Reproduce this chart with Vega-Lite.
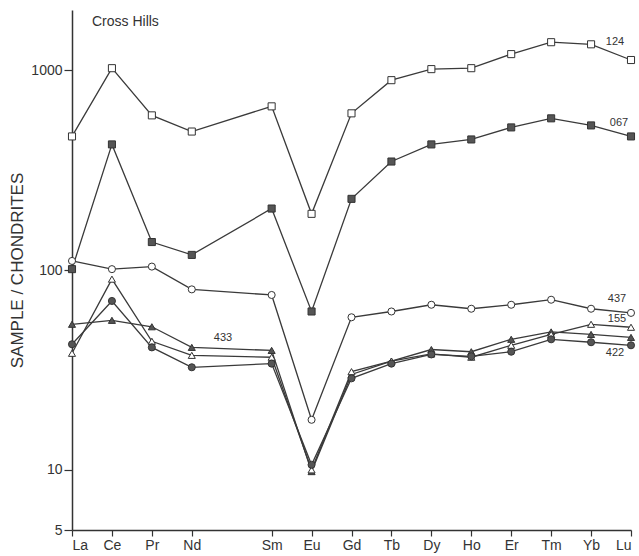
{
  "$schema": "https://vega.github.io/schema/vega-lite/v6.json",
  "width": 559,
  "height": 520,
  "autosize": "none",
  "padding": {"left": 72, "top": 10, "right": 8, "bottom": 26},
  "background": "white",
  "config": {"view": {"stroke": null}, "font": "Liberation Sans"},
  "datasets": {
    "ree": [
      {"s":"124","i":0,"v":466},{"s":"124","i":1,"v":1023},{"s":"124","i":2,"v":594},{"s":"124","i":3,"v":493},{"s":"124","i":5,"v":659},{"s":"124","i":6,"v":191},{"s":"124","i":7,"v":608},{"s":"124","i":8,"v":891},{"s":"124","i":9,"v":1012},{"s":"124","i":10,"v":1023},{"s":"124","i":11,"v":1203},{"s":"124","i":12,"v":1380},{"s":"124","i":13,"v":1347},{"s":"124","i":14,"v":1124},
      {"s":"067","i":0,"v":101},{"s":"067","i":1,"v":425},{"s":"067","i":2,"v":138},{"s":"067","i":3,"v":119},{"s":"067","i":5,"v":203},{"s":"067","i":6,"v":62},{"s":"067","i":7,"v":227},{"s":"067","i":8,"v":349},{"s":"067","i":9,"v":425},{"s":"067","i":10,"v":450},{"s":"067","i":11,"v":517},{"s":"067","i":12,"v":574},{"s":"067","i":13,"v":529},{"s":"067","i":14,"v":466},
      {"s":"437","i":0,"v":111},{"s":"437","i":1,"v":101},{"s":"437","i":2,"v":104},{"s":"437","i":3,"v":80},{"s":"437","i":5,"v":75},{"s":"437","i":6,"v":17.8},{"s":"437","i":7,"v":58},{"s":"437","i":8,"v":62},{"s":"437","i":9,"v":67},{"s":"437","i":10,"v":64},{"s":"437","i":11,"v":67},{"s":"437","i":12,"v":71},{"s":"437","i":13,"v":64},{"s":"437","i":14,"v":61},
      {"s":"433","i":0,"v":53.5},{"s":"433","i":1,"v":56},{"s":"433","i":2,"v":52},{"s":"433","i":3,"v":41},{"s":"433","i":5,"v":39.6},{"s":"433","i":6,"v":9.8},{"s":"433","i":7,"v":30},{"s":"433","i":8,"v":35},{"s":"433","i":9,"v":40},{"s":"433","i":10,"v":39},{"s":"433","i":11,"v":45},{"s":"433","i":12,"v":49},{"s":"433","i":13,"v":47.6},{"s":"433","i":14,"v":46},
      {"s":"155","i":0,"v":38.3},{"s":"155","i":1,"v":90},{"s":"155","i":2,"v":44},{"s":"155","i":3,"v":37.4},{"s":"155","i":5,"v":36.6},{"s":"155","i":6,"v":10},{"s":"155","i":7,"v":31},{"s":"155","i":8,"v":35},{"s":"155","i":9,"v":38},{"s":"155","i":10,"v":36.6},{"s":"155","i":11,"v":42},{"s":"155","i":12,"v":47.6},{"s":"155","i":13,"v":53.5},{"s":"155","i":14,"v":51.7},
      {"s":"422","i":0,"v":42.5},{"s":"422","i":1,"v":70},{"s":"422","i":2,"v":41},{"s":"422","i":3,"v":32.6},{"s":"422","i":5,"v":34},{"s":"422","i":6,"v":10.6},{"s":"422","i":7,"v":28.7},{"s":"422","i":8,"v":34},{"s":"422","i":9,"v":37.8},{"s":"422","i":10,"v":37},{"s":"422","i":11,"v":39},{"s":"422","i":12,"v":45},{"s":"422","i":13,"v":43.5},{"s":"422","i":14,"v":42}
    ],
    "labels": [
      {"t":"124","i":13.6,"v":1380},
      {"t":"067","i":13.7,"v":542},
      {"t":"437","i":13.65,"v":72},
      {"t":"155","i":13.65,"v":56.7},
      {"t":"422","i":13.6,"v":38.3},
      {"t":"433","i":3.78,"v":45.5}
    ]
  },
  "layer": [
    {
      "data": {"name": "ree"},
      "mark": {"type": "line", "color": "#3a3a3a", "strokeWidth": 1.3},
      "encoding": {
        "x": {
          "field": "i", "type": "quantitative",
          "scale": {"domain": [0, 14], "nice": false, "zero": false},
          "axis": {
            "values": [0,1,2,3,5,6,7,8,9,10,11,12,13,14],
            "labelExpr": "['La','Ce','Pr','Nd','Pm','Sm','Eu','Gd','Tb','Dy','Ho','Er','Tm','Yb','Lu'][datum.value]",
            "title": null, "grid": false,
            "domainColor": "#333", "domainWidth": 1.5,
            "tickColor": "#333", "tickSize": 6, "tickWidth": 1.2,
            "labelFontSize": 14, "labelColor": "#333", "labelPadding": 2
          }
        },
        "y": {
          "field": "v", "type": "quantitative",
          "scale": {"type": "log", "domain": [5, 2000], "nice": false},
          "axis": {
            "values": [5, 10, 100, 1000],
            "format": "d",
            "title": "SAMPLE / CHONDRITES",
            "titleFontSize": 17, "titleFontWeight": "normal", "titleColor": "#333", "titlePadding": 4,
            "grid": false,
            "domainColor": "#333", "domainWidth": 1.5,
            "tickColor": "#333", "tickSize": 8, "tickWidth": 1.2,
            "labelFontSize": 14, "labelColor": "#333", "labelPadding": 2
          }
        },
        "detail": {"field": "s"}
      }
    },
    {
      "data": {"name": "ree"},
      "mark": {"type": "point", "filled": false, "strokeWidth": 1, "stroke": "#333", "opacity": 1, "size": 50},
      "encoding": {
        "x": {"field": "i", "type": "quantitative"},
        "y": {"field": "v", "type": "quantitative"},
        "shape": {
          "field": "s", "type": "nominal",
          "scale": {"domain": ["124","067","437","433","155","422"], "range": ["square","square","circle","triangle-up","triangle-up","circle"]},
          "legend": null
        },
        "fill": {
          "field": "s", "type": "nominal",
          "scale": {"domain": ["124","067","437","433","155","422"], "range": ["white","#555","white","#555","white","#555"]},
          "legend": null
        }
      }
    },
    {
      "data": {"name": "labels"},
      "mark": {"type": "text", "fontSize": 11, "color": "#333", "baseline": "middle", "align": "center"},
      "encoding": {
        "x": {"field": "i", "type": "quantitative"},
        "y": {"field": "v", "type": "quantitative"},
        "text": {"field": "t"}
      }
    },
    {
      "data": {"values": [{"t": "Cross Hills"}]},
      "mark": {"type": "text", "fontSize": 14, "color": "#333", "align": "left", "baseline": "middle"},
      "encoding": {
        "x": {"datum": 0.5, "type": "quantitative"},
        "y": {"datum": 1742, "type": "quantitative"},
        "text": {"field": "t"}
      }
    }
  ]
}
